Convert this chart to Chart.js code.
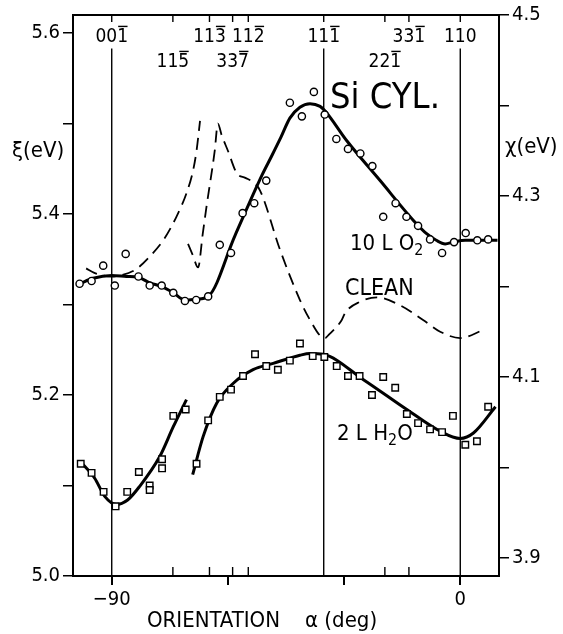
<!DOCTYPE html>
<html>
<head>
<meta charset="utf-8">
<script src="https://cdn.jsdelivr.net/npm/chart.js@4.4.1/dist/chart.umd.min.js"></script>
<style>
  body { margin: 0; background: #fff; }
  canvas { display: block; }
</style>
</head>
<body>
<canvas id="siChart" width="563" height="634"></canvas>
<script>
// --- data (alpha in deg, xi in eV) ---
const o2Alpha = [-98.3, -95.2, -92.2, -89.2, -86.4, -83.1, -80.2, -77.1, -74.1, -71.1, -68.2, -65.1, -62.1, -59.2, -56.2, -53.2, -50.1,
                 -44.0, -40.9, -37.8, -35.0, -32.0, -29.0, -25.8, -22.7, -19.9, -16.7, -13.9, -10.9, -7.8, -4.7, -1.6, 1.4, 4.4, 7.2];
const o2Xi = [5.323, 5.326, 5.343, 5.321, 5.356, 5.331, 5.321, 5.321, 5.313, 5.304, 5.305, 5.309, 5.366, 5.357, 5.401, 5.412, 5.437,
              5.523, 5.508, 5.535, 5.510, 5.483, 5.472, 5.467, 5.453, 5.397, 5.412, 5.397, 5.387, 5.372, 5.357, 5.369, 5.379, 5.371, 5.372];

const o2FitAlpha = [-98.3, -94.8, -90.0, -86.2, -83.1, -80.2, -77.2, -74.1, -71.1, -68.1, -65.1, -58.2, -51.2, -48.6, -46.3, -44.0,
                    -41.4, -38.8, -36.2, -34.9, -29.3, -20.7, -12.1, -8.6, -6.2, -3.9, -1.8, 1.3, 9.6];
const o2FitXi = [5.323, 5.329, 5.332, 5.331, 5.330, 5.324, 5.320, 5.313, 5.305, 5.306, 5.309, 5.376, 5.443, 5.465, 5.485, 5.506,
                 5.518, 5.522, 5.519, 5.514, 5.481, 5.437, 5.393, 5.378, 5.371, 5.367, 5.369, 5.371, 5.371];

const h2oAlpha = [-98.0, -95.2, -92.1, -89.0, -86.0, -83.0, -80.2, -80.2, -77.0, -77.0, -74.1, -70.9, -68.1, -65.1, -62.1, -59.2, -56.1,
                  -53.0, -50.1, -47.1, -44.0, -41.4, -38.1, -35.1, -31.9, -29.0, -26.0, -22.8, -19.9, -16.8, -13.8, -10.9, -7.8, -4.7,
                  -1.9, 1.3, 4.3, 7.2];
const h2oXi = [5.124, 5.114, 5.093, 5.077, 5.093, 5.115, 5.100, 5.095, 5.129, 5.119, 5.177, 5.184, 5.124, 5.172, 5.198, 5.206, 5.221,
               5.245, 5.232, 5.228, 5.238, 5.257, 5.243, 5.242, 5.232, 5.221, 5.221, 5.200, 5.220, 5.208, 5.179, 5.169, 5.162, 5.159,
               5.177, 5.145, 5.149, 5.187];

const h2oFitAAlpha = [-98.0, -94.4, -91.8, -88.8, -85.9, -82.8, -77.6, -74.1, -70.7];
const h2oFitAXi = [5.126, 5.108, 5.088, 5.079, 5.084, 5.099, 5.132, 5.165, 5.195];
const h2oFitBAlpha = [-69.1, -66.4, -62.9, -58.6, -53.5, -48.3, -41.4, -38.8, -35.4, -25.0, -13.8, -5.2, 0.0, 3.4, 9.1];
const h2oFitBXi = [5.112, 5.154, 5.191, 5.213, 5.228, 5.235, 5.244, 5.246, 5.245, 5.217, 5.184, 5.160, 5.152, 5.158, 5.187];

const cleanAAlpha = [-96.6, -94.5, -92.0, -90.0, -87.0, -84.5, -82.8, -80.2, -76.7, -73.3, -70.7, -69.0, -68.1, -67.2];
const cleanAXi = [5.340, 5.335, 5.332, 5.331, 5.333, 5.337, 5.342, 5.353, 5.371, 5.397, 5.423, 5.448, 5.470, 5.503];
const cleanBAlpha = [-70.3, -69.1, -67.7, -66.5, -65.5, -63.4, -62.6, -61.6, -60.0, -57.7, -55.5, -53.4, -51.7, -46.5, -41.4, -38.8,
                     -35.8, -34.9, -34.1, -30.6, -29.7, -25.9, -21.5, -15.5, -9.6, -5.2, 0.0, 6.0];
const cleanBXi = [5.367, 5.355, 5.341, 5.378, 5.409, 5.470, 5.500, 5.487, 5.470, 5.445, 5.440, 5.435, 5.426, 5.360, 5.305, 5.283,
                  5.264, 5.263, 5.266, 5.283, 5.291, 5.303, 5.308, 5.299, 5.283, 5.270, 5.263, 5.272];

// crystal directions along the cylinder
const dirAlpha = [-90, -74.21, -64.76, -58.78, -54.74, -35.26, -19.47, -13.26, 0];
const dirLabel = ['001', '115', '113', '337', '112', '111', '221', '331', '110'];
const dirBar = [2, 2, 2, 2, 2, 2, 2, 2, -1];   // which digit carries the bar
const dirRow = [0, 1, 0, 1, 0, 0, 1, 0, 0];
const dirFullLine = [true, false, false, false, false, true, false, false, true];

const xTicks = [-90, -60, -30, 0];
const xTickLabels = ['\u221290', '', '', '0'];
const xiTicks = [5.0, 5.1, 5.2, 5.3, 5.4, 5.5, 5.6];
const xiTickLabels = ['5.0', '', '5.2', '', '5.4', '', '5.6'];
const chiTicks = [3.9, 4.0, 4.1, 4.2, 4.3, 4.4, 4.5];
const chiTickLabels = ['3.9', '', '4.1', '', '4.3', '', '4.5'];

const FONT = "'DejaVu Sans Condensed', 'DejaVu Sans', sans-serif";

const pts = (xs, ys) => xs.map((v, i) => ({ x: v, y: ys[i] }));

function fitLine(xs, ys, dash) {
    return {
        data: pts(xs, ys), showLine: true, pointRadius: 0, borderColor: '#000',
        borderWidth: dash ? 1.8 : 3, borderDash: dash ? [12, 7] : [],
        cubicInterpolationMode: 'monotone', fill: false
    };
}

function dirLine(a) {
    return {
        data: [{ x: a, y: 5.0 }, { x: a, y: 5.583 }], showLine: true, pointRadius: 0,
        borderColor: '#000', borderWidth: 1.4
    };
}

function txt(ctx, s, x, y, size, align = 'left') {
    ctx.save();
    ctx.font = `${size}px ${FONT}`;
    ctx.textAlign = align;
    ctx.textBaseline = 'alphabetic';
    ctx.fillText(s, x, y);
    ctx.restore();
}

function dirText(ctx, s, bar, cx, y, size) {
    ctx.save();
    ctx.font = `${size}px ${FONT}`;
    let w = ctx.measureText(s).width;
    let left = cx - w / 2;
    txt(ctx, s, left, y, size);
    if (bar >= 0) {
        let x0 = left + ctx.measureText(s.slice(0, bar)).width;
        let x1 = left + ctx.measureText(s.slice(0, bar + 1)).width;
        ctx.lineWidth = 1.4;
        ctx.beginPath();
        ctx.moveTo(x0 + 1, y - size * 0.82);
        ctx.lineTo(x1 - 0.5, y - size * 0.82);
        ctx.stroke();
    }
    ctx.restore();
}

function withSub(ctx, parts, x, y, size) {
    // parts: [text, isSub]
    ctx.save();
    let cx = x;
    parts.forEach(([s, sub]) => {
        let fs = sub ? size * 0.72 : size;
        ctx.font = `${fs}px ${FONT}`;
        txt(ctx, s, cx, sub ? y + size * 0.22 : y, fs);
        cx += ctx.measureText(s).width;
    });
    ctx.restore();
}

const paperPlugin = {
    id: 'paper',
    afterDraw(chart) {
        const { ctx, chartArea: a, scales: { x } } = chart;
        ctx.save();
        ctx.strokeStyle = '#000';
        ctx.fillStyle = '#000';
        ctx.lineWidth = 2;
        ctx.strokeRect(a.left, a.top, a.right - a.left, a.bottom - a.top);

        // inward ticks for the directions
        ctx.lineWidth = 1.4;
        dirAlpha.forEach((v, i) => {
            const px = x.getPixelForValue(v);
            ctx.beginPath();
            ctx.moveTo(px, a.top);
            ctx.lineTo(px, a.top + 7);
            if (!dirFullLine[i]) {
                ctx.moveTo(px, a.bottom);
                ctx.lineTo(px, a.bottom - 9);
            }
            ctx.stroke();
            const y = dirRow[i] === 0 ? 42 : 67;
            dirText(ctx, dirLabel[i], dirBar[i], px, y, 19);
        });

        // curve labels
        txt(ctx, 'Si CYL.', 330, 108, 36);
        withSub(ctx, [['10 L O', false], ['2', true]], 350, 250, 22);
        txt(ctx, 'CLEAN', 345, 295, 23);
        withSub(ctx, [['2 L H', false], ['2', true], ['O', false]], 337, 440, 22);

        // axis titles
        txt(ctx, '\u03be(eV)', 12, 157, 22);
        txt(ctx, '\u03c7(eV)', 505, 153, 22);
        txt(ctx, 'ORIENTATION', 147, 627, 22);
        txt(ctx, '\u03b1 (deg)', 305, 627, 22);
        ctx.restore();
    }
};

const tickFont = { family: FONT, size: 20 };

new Chart(document.getElementById('siChart'), {
    type: 'scatter',
    data: {
        datasets: [
            {
                data: pts(o2Alpha, o2Xi), pointStyle: 'circle', pointRadius: 3.6, borderWidth: 1.4,
                borderColor: '#000', backgroundColor: '#fff', showLine: false
            },
            {
                data: pts(h2oAlpha, h2oXi), pointStyle: 'rect', pointRadius: 4.6, borderWidth: 1.4,
                borderColor: '#000', backgroundColor: '#fff', showLine: false
            },
            fitLine(o2FitAlpha, o2FitXi, false),
            fitLine(h2oFitAAlpha, h2oFitAXi, false),
            fitLine(h2oFitBAlpha, h2oFitBXi, false),
            fitLine(cleanAAlpha, cleanAXi, true),
            fitLine(cleanBAlpha, cleanBXi, true),
            ...dirAlpha.filter((v, i) => dirFullLine[i]).map(dirLine)
        ]
    },
    options: {
        responsive: false,
        animation: false,
        layout: { padding: { top: 14, left: 0, right: 0, bottom: 0 } },
        plugins: { legend: { display: false }, tooltip: { enabled: false } },
        scales: {
            x: {
                type: 'linear', min: -100, max: 10, position: 'bottom',
                afterBuildTicks: s => { s.ticks = xTicks.map(v => ({ value: v })); },
                afterFit: s => { s.height = 58; },
                ticks: {
                    color: '#000', font: tickFont, padding: 3, maxRotation: 0, autoSkip: false,
                    callback: (v, i) => xTickLabels[i]
                },
                grid: { drawOnChartArea: false, tickLength: 9, color: '#000', lineWidth: 2 },
                border: { display: false }
            },
            y: {
                min: 5.0, max: 5.62, position: 'left',
                afterBuildTicks: s => { s.ticks = xiTicks.map(v => ({ value: v })); },
                afterFit: s => { s.width = 73; },
                ticks: {
                    color: '#000', font: tickFont, padding: 3, autoSkip: false,
                    callback: (v, i) => xiTickLabels[i]
                },
                grid: { drawOnChartArea: false, tickLength: 10, color: '#000', lineWidth: 1.5 },
                border: { display: false }
            },
            y2: {
                min: 3.88, max: 4.5, position: 'right',
                afterBuildTicks: s => { s.ticks = chiTicks.map(v => ({ value: v })); },
                afterFit: s => { s.width = 64; },
                ticks: {
                    color: '#000', font: tickFont, padding: 3, autoSkip: false,
                    callback: (v, i) => chiTickLabels[i]
                },
                grid: { drawOnChartArea: false, tickLength: 10, color: '#000', lineWidth: 1.5 },
                border: { display: false }
            }
        }
    },
    plugins: [paperPlugin]
});
</script>
</body>
</html>
